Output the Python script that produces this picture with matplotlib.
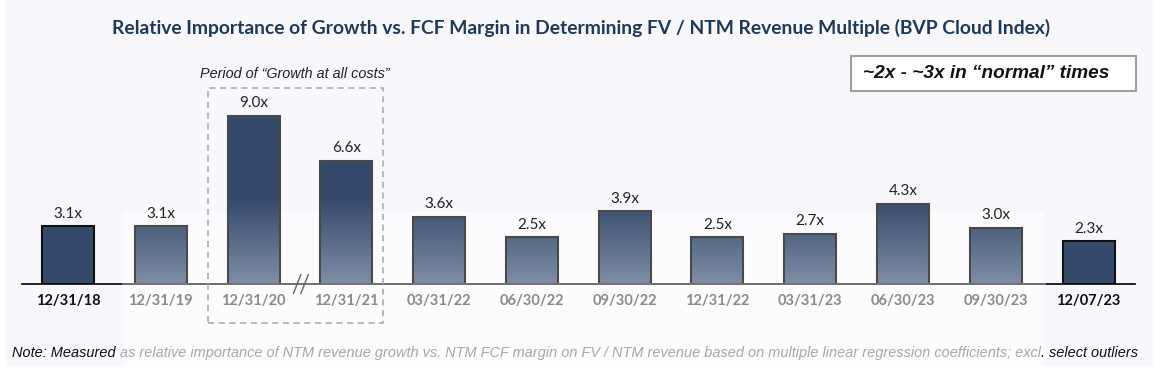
import matplotlib
matplotlib.use("Agg")
import matplotlib.pyplot as plt
import numpy as np
from matplotlib.patches import Rectangle
from matplotlib.colors import to_rgb

categories = ["12/31/18", "12/31/19", "12/31/20", "12/31/21", "03/31/22", "06/30/22",
              "09/30/22", "12/31/22", "03/31/23", "06/30/23", "09/30/23", "12/07/23"]
values = [3.1, 3.1, 9.0, 6.6, 3.6, 2.5, 3.9, 2.5, 2.7, 4.3, 3.0, 2.3]
value_labels = ["3.1x", "3.1x", "9.0x", "6.6x", "3.6x", "2.5x", "3.9x", "2.5x", "2.7x", "4.3x", "3.0x", "2.3x"]
highlight = [True] + [False] * 10 + [True]

title = "Relative Importance of Growth vs. FCF Margin in Determining FV / NTM Revenue Multiple (BVP Cloud Index)"
period_text = "Period of \u201cGrowth at all costs\u201d"
normal_text = "~2x - ~3x in \u201cnormal\u201d times"
note_dark1 = "Note: Measured"
note_grey = " as relative importance of NTM revenue growth vs. NTM FCF margin on FV / NTM revenue based on multiple linear regression coefficients; excl"
note_dark2 = ". select outliers"

W, H = 1162, 382
fig = plt.figure(figsize=(W / 100, H / 100), dpi=100)
fig.patch.set_facecolor("#ffffff")

def fx(px):
    return px / W

def fy(py):
    return 1 - py / H

# lavender slide background
fig.patches.append(Rectangle((fx(6), fy(366)), fx(1153) - fx(6), fy(0) - fy(366),
                             transform=fig.transFigure, facecolor="#f8f8fc", edgecolor="none", zorder=-6))
# whitish overlay region (behind the axes)
fig.patches.append(Rectangle((fx(123), fy(367)), fx(1044) - fx(123), fy(212) - fy(367),
                             transform=fig.transFigure, facecolor="#fcfbfd", edgecolor="none", zorder=-5))

ax_l, ax_r, ax_t, ax_b = 21.6, 1135.0, 60.0, 284.0
ax = fig.add_axes([fx(ax_l), fy(ax_b), fx(ax_r) - fx(ax_l), fy(ax_t) - fy(ax_b)])
ax.set_facecolor("none")
ax.set_zorder(1)
for s in ["top", "right", "left"]:
    ax.spines[s].set_visible(False)
ax.spines["bottom"].set_color("#111111")
ax.spines["bottom"].set_linewidth(1.3)
ax.set_yticks([])
x = np.arange(len(categories))
ax.set_xticks(x)
ax.set_xticklabels(categories, fontfamily="Lato", fontweight="bold", fontsize=10.5)
ax.tick_params(axis="x", length=0, pad=7)
for lab, hl in zip(ax.get_xticklabels(), highlight):
    lab.set_color("#111111" if hl else "#8a8a8a")

# grey baseline segment under the overlay
ax.plot([0.59, 10.53], [0, 0], color="#7a7a7a", lw=1.3, zorder=5, clip_on=False)

dark = np.array(to_rgb("#35496a"))
light = np.array(to_rgb("#808ea6"))
bw = 0.56

def grad_color(yv):
    t = np.clip(yv / 4.6, 0, 1)
    return light + (dark - light) * t[..., None]

for i, (v, lab, hl) in enumerate(zip(values, value_labels, highlight)):
    if hl:
        ax.bar(i, v, width=bw, color="#35496a", edgecolor="#111111", linewidth=1.5, zorder=3)
    else:
        ys = np.linspace(v, 0, 200)
        img = grad_color(ys)[:, None, :]
        ax.imshow(img, extent=[i - bw / 2, i + bw / 2, 0, v], aspect="auto", zorder=3, interpolation="bilinear")
        ax.bar(i, v, width=bw, color="none", edgecolor="#4a4a4a", linewidth=1.5, zorder=4)
    ax.annotate(lab, (i, v), xytext=(0, 4), textcoords="offset points", ha="center", va="bottom",
                fontfamily="Lato", fontsize=11, color="#222222")

ax.set_xlim(-0.5, len(categories) - 0.5)
ax.set_ylim(0, 12.0)

# axis break marks
for dx in (-0.04, 0.04):
    ax.plot([2.47 + dx, 2.55 + dx], [-0.5, 0.5], color="#666666", lw=1.0, clip_on=False, zorder=6)

# dashed box for the growth period
fig.patches.append(Rectangle((fx(208), fy(323)), fx(383) - fx(208), fy(88) - fy(323),
                             transform=fig.transFigure, facecolor="none", edgecolor="#a6a6a6",
                             linestyle=(0, (4, 3)), linewidth=1.1, zorder=10))
fig.text(fx(295), fy(74), period_text, ha="center", va="center", fontfamily="Liberation Sans",
         fontstyle="italic", fontsize=10.4, color="#222222")

# normal times box
fig.patches.append(Rectangle((fx(851), fy(91)), fx(1136) - fx(851), fy(56) - fy(91),
                             transform=fig.transFigure, facecolor="#ffffff", edgecolor="#a0a0a0",
                             linewidth=1.5, zorder=10))
fig.text(fx(863), fy(73.5), normal_text, ha="left", va="center", fontfamily="Liberation Sans",
         fontstyle="italic", fontweight="bold", fontsize=13.7, color="#111111", zorder=11)

# title
fig.text(fx(581), fy(28), title, ha="center", va="center", fontfamily="Lato",
         fontweight="bold", fontsize=13.9, color="#1e3a5a")

# note
t1 = fig.text(fx(12), fy(353), note_dark1, ha="left", va="center", fontfamily="Liberation Sans",
              fontstyle="italic", fontsize=10.45, color="#111111")
fig.canvas.draw()
r = fig.canvas.get_renderer()
bb = t1.get_window_extent(r)
t2 = fig.text(bb.x1 / W, fy(353), note_grey, ha="left", va="center", fontfamily="Liberation Sans",
              fontstyle="italic", fontsize=10.45, color="#a8a8a8")
bb2 = t2.get_window_extent(r)
fig.text(bb2.x1 / W, fy(353), note_dark2, ha="left", va="center", fontfamily="Liberation Sans",
         fontstyle="italic", fontsize=10.45, color="#111111")

fig.savefig("out.png", dpi=100, facecolor=fig.get_facecolor())
